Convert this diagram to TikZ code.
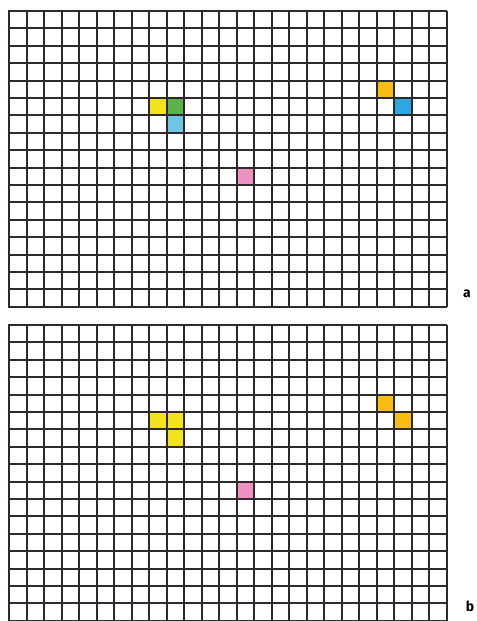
\documentclass[tikz,border=0pt]{standalone}
\usepackage{fontspec}
\setmainfont{Fira Sans}
\usetikzlibrary{positioning}

\definecolor{gridgray}{HTML}{2E2A2B}
\definecolor{cellyellow}{HTML}{F4E31C}
\definecolor{cellgreen}{HTML}{5DB34A}
\definecolor{cellcyan}{HTML}{6EC6E2}
\definecolor{cellorange}{HTML}{F7BD10}
\definecolor{cellblue}{HTML}{2CA8E0}
\definecolor{cellpink}{HTML}{EE91C2}

% one coloured square: colour, column, row, top of its grid
\newcommand\paintcell[4]{\fill[#1] ({round(9+#2*17.5)},{round(#4+#3*17.4)})
  rectangle ({round(9+(#2+1)*17.5)},{round(#4+(#3+1)*17.4)});}

\begin{document}
\begin{tikzpicture}[x=1bp, y=-1bp,
  gridline/.style={draw=gridgray, line width=2bp},
  panel/.style={font=\fontsize{14}{14}\selectfont\bfseries, inner sep=0pt}]
  \useasboundingbox (0,0) rectangle (477,621);

  % panel a
  \paintcell{cellyellow}{8}{5}{11}
  \paintcell{cellgreen}{9}{5}{11}
  \paintcell{cellcyan}{9}{6}{11}
  \paintcell{cellpink}{13}{9}{11}
  \paintcell{cellorange}{21}{4}{11}
  \paintcell{cellblue}{22}{5}{11}

  % panel b
  \paintcell{cellyellow}{8}{5}{325}
  \paintcell{cellyellow}{9}{5}{325}
  \paintcell{cellyellow}{9}{6}{325}
  \paintcell{cellpink}{13}{9}{325}
  \paintcell{cellorange}{21}{4}{325}
  \paintcell{cellorange}{22}{5}{325}

  \foreach \gtop in {11,325} {
    \foreach \col in {0,...,25}
      \draw[gridline] ({round(9+\col*17.5)},\gtop) -- ({round(9+\col*17.5)},{\gtop+296});
    \foreach \row in {0,...,17}
      \draw[gridline] (8,{round(\gtop+\row*17.4)}) -- (447,{round(\gtop+\row*17.4)});
  }

  \node[panel] (lbla) at (467,294) {a};
  \node[panel] (lblb) at (470,606) {b};
\end{tikzpicture}
\end{document}
